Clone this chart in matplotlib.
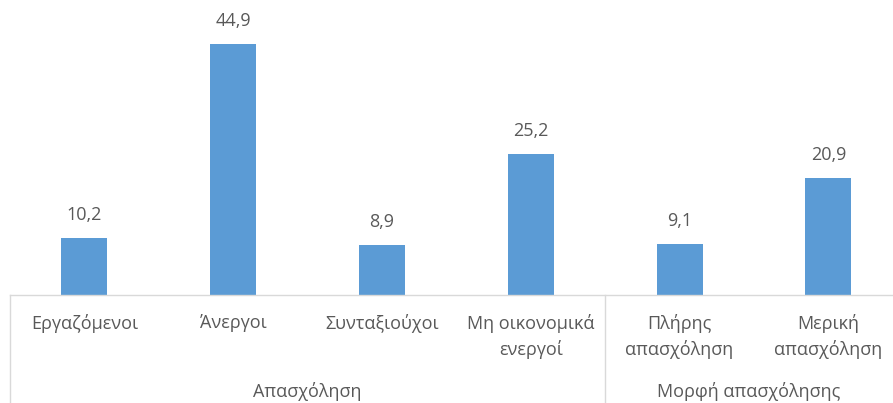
import matplotlib

matplotlib.use("Agg")
import matplotlib.pyplot as plt
import matplotlib.transforms as mtransforms

categories = [
    "Εργαζόμενοι",
    "Άνεργοι",
    "Συνταξιούχοι",
    "Μη οικονομικά\nενεργοί",
    "Πλήρης\nαπασχόληση",
    "Μερική\nαπασχόληση",
]
values = [10.2, 44.9, 8.9, 25.2, 9.1, 20.9]
groups = ["Απασχόληση", "Μορφή απασχόλησης"]
group_spans = [(0, 3), (4, 5)]

BAR_COLOR = "#5B9BD5"
TEXT_COLOR = "#595959"
LINE_COLOR = "#D9D9D9"

plt.rcParams["font.family"] = ["Open Sans", "DejaVu Sans"]
FS = 13

W, H = 893, 403
fig = plt.figure(figsize=(W / 100, H / 100), dpi=100)
fig.patch.set_facecolor("white")

# plot area: left edge at 10px, baseline at 295px from top
ax = fig.add_axes([10 / W, (H - 295) / H, (W - 10) / W, 295 / H])
step = 148.8
ax.set_xlim(-0.5, -0.5 + (W - 10) / step)
ax.set_ylim(0, 295 / 5.59)

x = list(range(len(values)))
ax.bar(x, values, width=0.31, color=BAR_COLOR, zorder=2)

for xi, v in zip(x, values):
    ax.annotate(
        f"{v:.1f}".replace(".", ","),
        (xi, v),
        xytext=(0, 13),
        textcoords="offset points",
        ha="center",
        va="baseline",
        fontsize=FS,
        color=TEXT_COLOR,
    )

for side in ("top", "right", "left"):
    ax.spines[side].set_visible(False)
ax.spines["bottom"].set_color(LINE_COLOR)
ax.spines["bottom"].set_linewidth(1.0)
ax.set_yticks([])
ax.set_xticks(x)
ax.set_xticklabels(categories, fontsize=FS, color=TEXT_COLOR, linespacing=1.5)
ax.tick_params(axis="x", length=0, pad=13.5)

# two-level category axis: group separators and group titles
trans = mtransforms.blended_transform_factory(ax.transData, ax.transAxes)
axis_depth = (H - 295) / 295
for sep in (-0.5, 3.5):
    ax.plot([sep, sep], [0, -axis_depth], transform=trans, color=LINE_COLOR,
            linewidth=1.0, clip_on=False)

for name, (a, b) in zip(groups, group_spans):
    right = b + 0.5 if b < len(values) - 1 else ax.get_xlim()[1]
    center = ((a - 0.5) + right) / 2
    ax.text(center, -(397 - 295) / 295, name, transform=trans, ha="center",
            va="baseline", fontsize=FS, color=TEXT_COLOR)

fig.savefig("out.png", dpi=100)
